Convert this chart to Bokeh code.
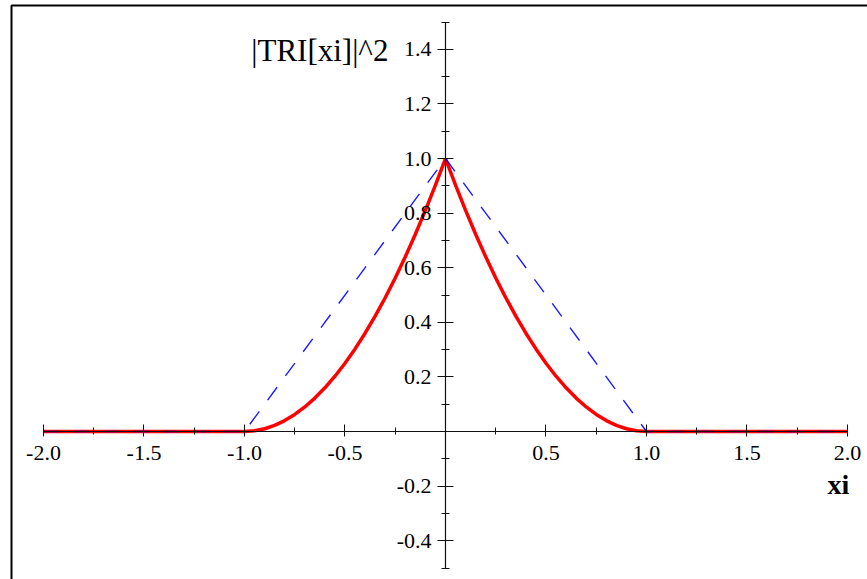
from bokeh.plotting import figure
from bokeh.models import (LinearAxis, FixedTicker, NumeralTickFormatter, Range1d,
                          Label, BoxAnnotation)
from bokeh.embed import file_html
from bokeh.resources import INLINE

# |TRI[xi]|^2 (squared triangle transform) and the triangle itself
xi_sq = [-2.0, -1.0, -0.95, -0.9, -0.85, -0.8, -0.75, -0.7, -0.65, -0.6, -0.55,
         -0.5, -0.45, -0.4, -0.35, -0.3, -0.25, -0.2, -0.15, -0.1, -0.05, 0.0,
         0.05, 0.1, 0.15, 0.2, 0.25, 0.3, 0.35, 0.4, 0.45, 0.5, 0.55, 0.6, 0.65,
         0.7, 0.75, 0.8, 0.85, 0.9, 0.95, 1.0, 2.0]
tri_sq = [0.0, 0.0, 0.0025, 0.01, 0.0225, 0.04, 0.0625, 0.09, 0.1225, 0.16, 0.2025,
          0.25, 0.3025, 0.36, 0.4225, 0.49, 0.5625, 0.64, 0.7225, 0.81, 0.9025, 1.0,
          0.9025, 0.81, 0.7225, 0.64, 0.5625, 0.49, 0.4225, 0.36, 0.3025, 0.25,
          0.2025, 0.16, 0.1225, 0.09, 0.0625, 0.04, 0.0225, 0.01, 0.0025, 0.0, 0.0]

xi_tri = [-2.0, -1.0, 0.0, 1.0, 2.0]
tri = [0.0, 0.0, 1.0, 0.0, 0.0]

x_major = [-2.0, -1.5, -1.0, -0.5, 0.5, 1.0, 1.5, 2.0]
x_minor = [-1.75, -1.25, -0.75, -0.25, 0.25, 0.75, 1.25, 1.75]
y_major = [-0.4, -0.2, 0.2, 0.4, 0.6, 0.8, 1.0, 1.2, 1.4]
y_minor = [-0.5, -0.3, -0.1, 0.1, 0.3, 0.5, 0.7, 0.9, 1.1, 1.3, 1.5]

SERIF = "Liberation Serif"

p = figure(width=867, height=579, output_backend="svg", toolbar_location=None,
           x_axis_type=None, y_axis_type=None,
           x_range=Range1d(-2.2139, 2.0995), y_range=Range1d(-0.5421, 1.5788),
           min_border=0, min_border_left=0, min_border_right=0,
           min_border_top=0, min_border_bottom=0)
p.outline_line_color = None
p.xgrid.visible = False
p.ygrid.visible = False
p.background_fill_color = "white"
p.border_fill_color = "white"


def style_axis(ax, major, minor, bounds, tin, tout, min_in, min_out, standoff):
    ax.ticker = FixedTicker(ticks=major, minor_ticks=minor)
    ax.formatter = NumeralTickFormatter(format="0.0")
    ax.bounds = bounds
    ax.axis_line_color = "#111111"
    ax.axis_line_width = 1.2
    ax.major_tick_line_color = "#111111"
    ax.minor_tick_line_color = "#111111"
    ax.major_tick_in = tin
    ax.major_tick_out = tout
    ax.minor_tick_in = min_in
    ax.minor_tick_out = min_out
    ax.major_label_text_font = SERIF
    ax.major_label_text_font_size = "22px"
    ax.major_label_text_color = "black"
    ax.major_label_standoff = standoff


xaxis = LinearAxis(fixed_location=0)
style_axis(xaxis, x_major, x_minor, (-2.0, 2.0), 7, 5, 4, 3, 9)
p.add_layout(xaxis, "below")

yaxis = LinearAxis(fixed_location=0)
style_axis(yaxis, y_major, y_minor, (-0.5, 1.5), 8, 8, 4, 4, 6)
p.add_layout(yaxis, "left")

p.line(xi_sq, tri_sq, line_color="#ff0000", line_width=3.5)
p.line(xi_tri, tri, line_color="#0000ff", line_width=1.4, line_dash="16 14",
       line_alpha=0.9)

p.add_layout(Label(x=-0.284, y=1.3956, text="|TRI[xi]|^2", text_align="right",
                   text_baseline="alphabetic", text_font=SERIF,
                   text_font_size="31px", text_color="black"))
p.add_layout(Label(x=1.955, y=-0.194, text="xi", text_align="center",
                   text_baseline="alphabetic", text_font=SERIF,
                   text_font_size="28px", text_font_style="bold",
                   text_color="black"))

p.add_layout(BoxAnnotation(left=11, right=900, top=5, bottom=600,
                           left_units="canvas", right_units="canvas",
                           top_units="canvas", bottom_units="canvas",
                           fill_alpha=0, line_color="black", line_alpha=1,
                           line_width=2))

open("out.html", "w").write(file_html(p, INLINE))
